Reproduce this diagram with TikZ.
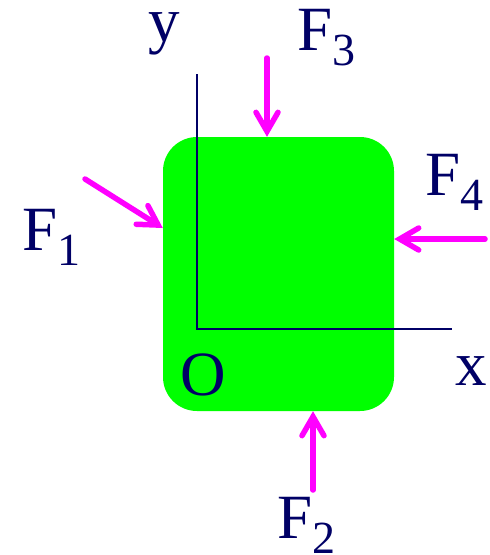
\documentclass[tikz,border=0pt]{standalone}
\usepackage{fontspec}
\setmainfont{Liberation Serif}
\usepackage{tikz}
\usetikzlibrary{arrows.meta,positioning,calc}
\definecolor{verde}{HTML}{00FF00}
\definecolor{rosa}{HTML}{FF00FF}
\definecolor{marino}{HTML}{000066}

\begin{document}
\begin{tikzpicture}[x=1pt,y=-1pt,
  fuerza/.style={line width=5.5pt,rosa,line cap=round,-{Straight Barb[length=19pt,width=22pt,line cap=round]}},
  eje/.style={line width=1.8pt,marino},
  etiqueta/.style={inner sep=0pt,text=marino,font=\fontsize{63}{63}\selectfont}]
  \useasboundingbox (0,0) rectangle (490,555);
  \node[fill=verde,rounded corners=34pt,minimum width=231pt,minimum height=274pt,inner sep=0pt] (cuerpo) at (278.5,274) {};
  % ejes
  \coordinate (O) at (197,329);
  \coordinate (ytope) at (197,74);
  \coordinate (xfin) at (452,329);
  \draw[eje] (ytope) -- (O) -- (xfin);
  % fuerzas
  \coordinate (c1) at (85,179);
  \coordinate (c2) at (313,490);
  \coordinate (c3) at (267,58);
  \coordinate (c4) at (485,239);
  \draw[fuerza] (c1) -- (cuerpo.west |- 0,228);
  \draw[fuerza] (c2) -- (c2 |- cuerpo.south);
  \draw[fuerza] (c3) -- (c3 |- cuerpo.north);
  \draw[fuerza] (c4) -- (c4 -| cuerpo.east);
  \foreach \i/\pos in {1/{22,250},2/{277,538},3/{297,50},4/{425,195}}
    \node[etiqueta,anchor=base west] (F\i) at (\pos) {F\raisebox{-15pt}{\fontsize{46}{46}\selectfont\i}};
  \node[etiqueta,anchor=base] (ylab) at (164,41) {y};
  \node[etiqueta,anchor=base] (xlab) at (471,385) {x};
  \node[etiqueta,anchor=base] (Olab) at (203,395) {O};
\end{tikzpicture}
\end{document}
